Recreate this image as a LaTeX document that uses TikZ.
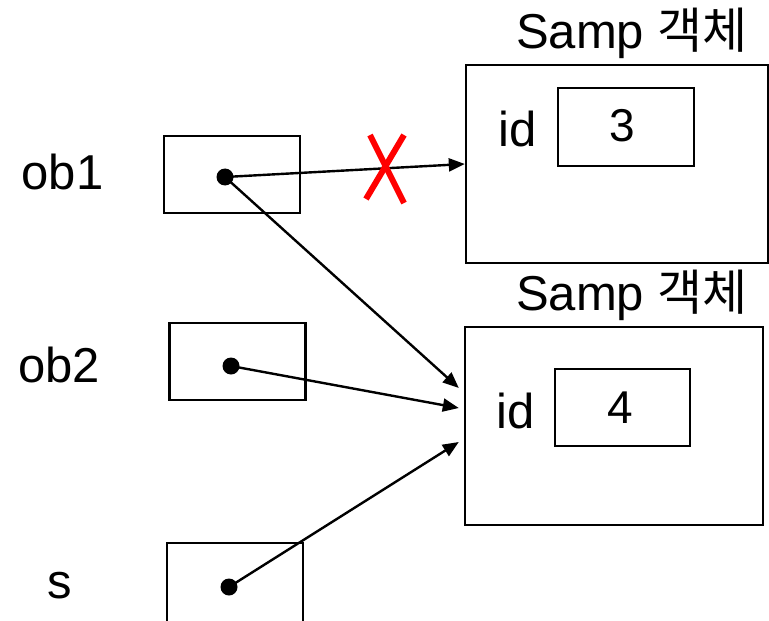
\documentclass[tikz,border=0pt]{standalone}
\usepackage{fontspec}
\setmainfont{Liberation Sans}
\newfontfamily\krfont{Noto Sans CJK KR}
\usetikzlibrary{arrows.meta,positioning,calc}

\begin{document}
\begin{tikzpicture}[x=0.5pt,y=-0.5pt,
  refbox/.style={draw,line width=1.2pt,inner sep=0pt,minimum width=68pt,minimum height=38.5pt},
  objbox/.style={draw,line width=1.2pt,inner sep=0pt,minimum width=151pt,minimum height=99pt},
  valbox/.style={draw,line width=1.2pt,inner sep=0pt,minimum width=68pt,minimum height=39pt},
  dot/.style={circle,fill,inner sep=0pt,minimum size=8.5pt},
  txt/.style={anchor=base,inner sep=0pt,font=\fontsize{24.5}{28}\selectfont},
  ref/.style={line width=1.2pt,-{Triangle[length=8pt,width=6.5pt]}}]
\useasboundingbox (0,0) rectangle (769,620);
\clip (0,0) rectangle (769,620);
% objects
\node[objbox] (objA) at (617,164) {};
\node[objbox,minimum width=149pt] (objB) at (614,426) {};
\node[valbox] (valA) at (626,127) {};
\node[valbox,minimum width=67.5pt,minimum height=38.5pt] (valB) at (622.5,407.5) {};
\node[txt] (titleA) at (632,49) {Samp {\krfont 객체}};
\node[txt] (titleB) at (632,310) {Samp {\krfont 객체}};
\node[txt] (idA) at (518,147) {id};
\node[txt] (idB) at (516,428) {id};
\node[txt,font=\fontsize{23}{26}\selectfont] (numA) at (622,142) {3};
\node[txt,font=\fontsize{23}{26}\selectfont] (numB) at (620,423) {4};
% references
\node[refbox] (ob1) at (232,174.5) {};
\node[refbox] (ob2) at (237.5,361.5) {};
\node[refbox,minimum height=70pt] (s) at (235,613) {};
\node[txt] (ob1lbl) at (62.5,190) {ob1};
\node[txt] (ob2lbl) at (59,382) {ob2};
\node[txt] (slbl) at (60,598) {s};
\node[dot] (d1) at (225,177) {};
\node[dot] (d2) at (231,366) {};
\node[dot] (d3) at (229,587) {};
\coordinate (inB1) at ($(objB.west)+(-5,-38)$);
\coordinate (inB2) at ($(objB.west)+(-5,-18)$);
\coordinate (inB3) at ($(objB.west)+(-5,16)$);
\draw[ref] (d1.center) -- (objA.west);
\draw[ref] (d1.center) -- (inB1);
\draw[ref] (d2.center) -- (inB2);
\draw[ref] (d3.center) -- (inB3);
% crossed out
\draw[red,line width=3pt] (370,135) -- (404,203);
\draw[red,line width=3pt] (404,135) -- (366,199);
\end{tikzpicture}
\end{document}
